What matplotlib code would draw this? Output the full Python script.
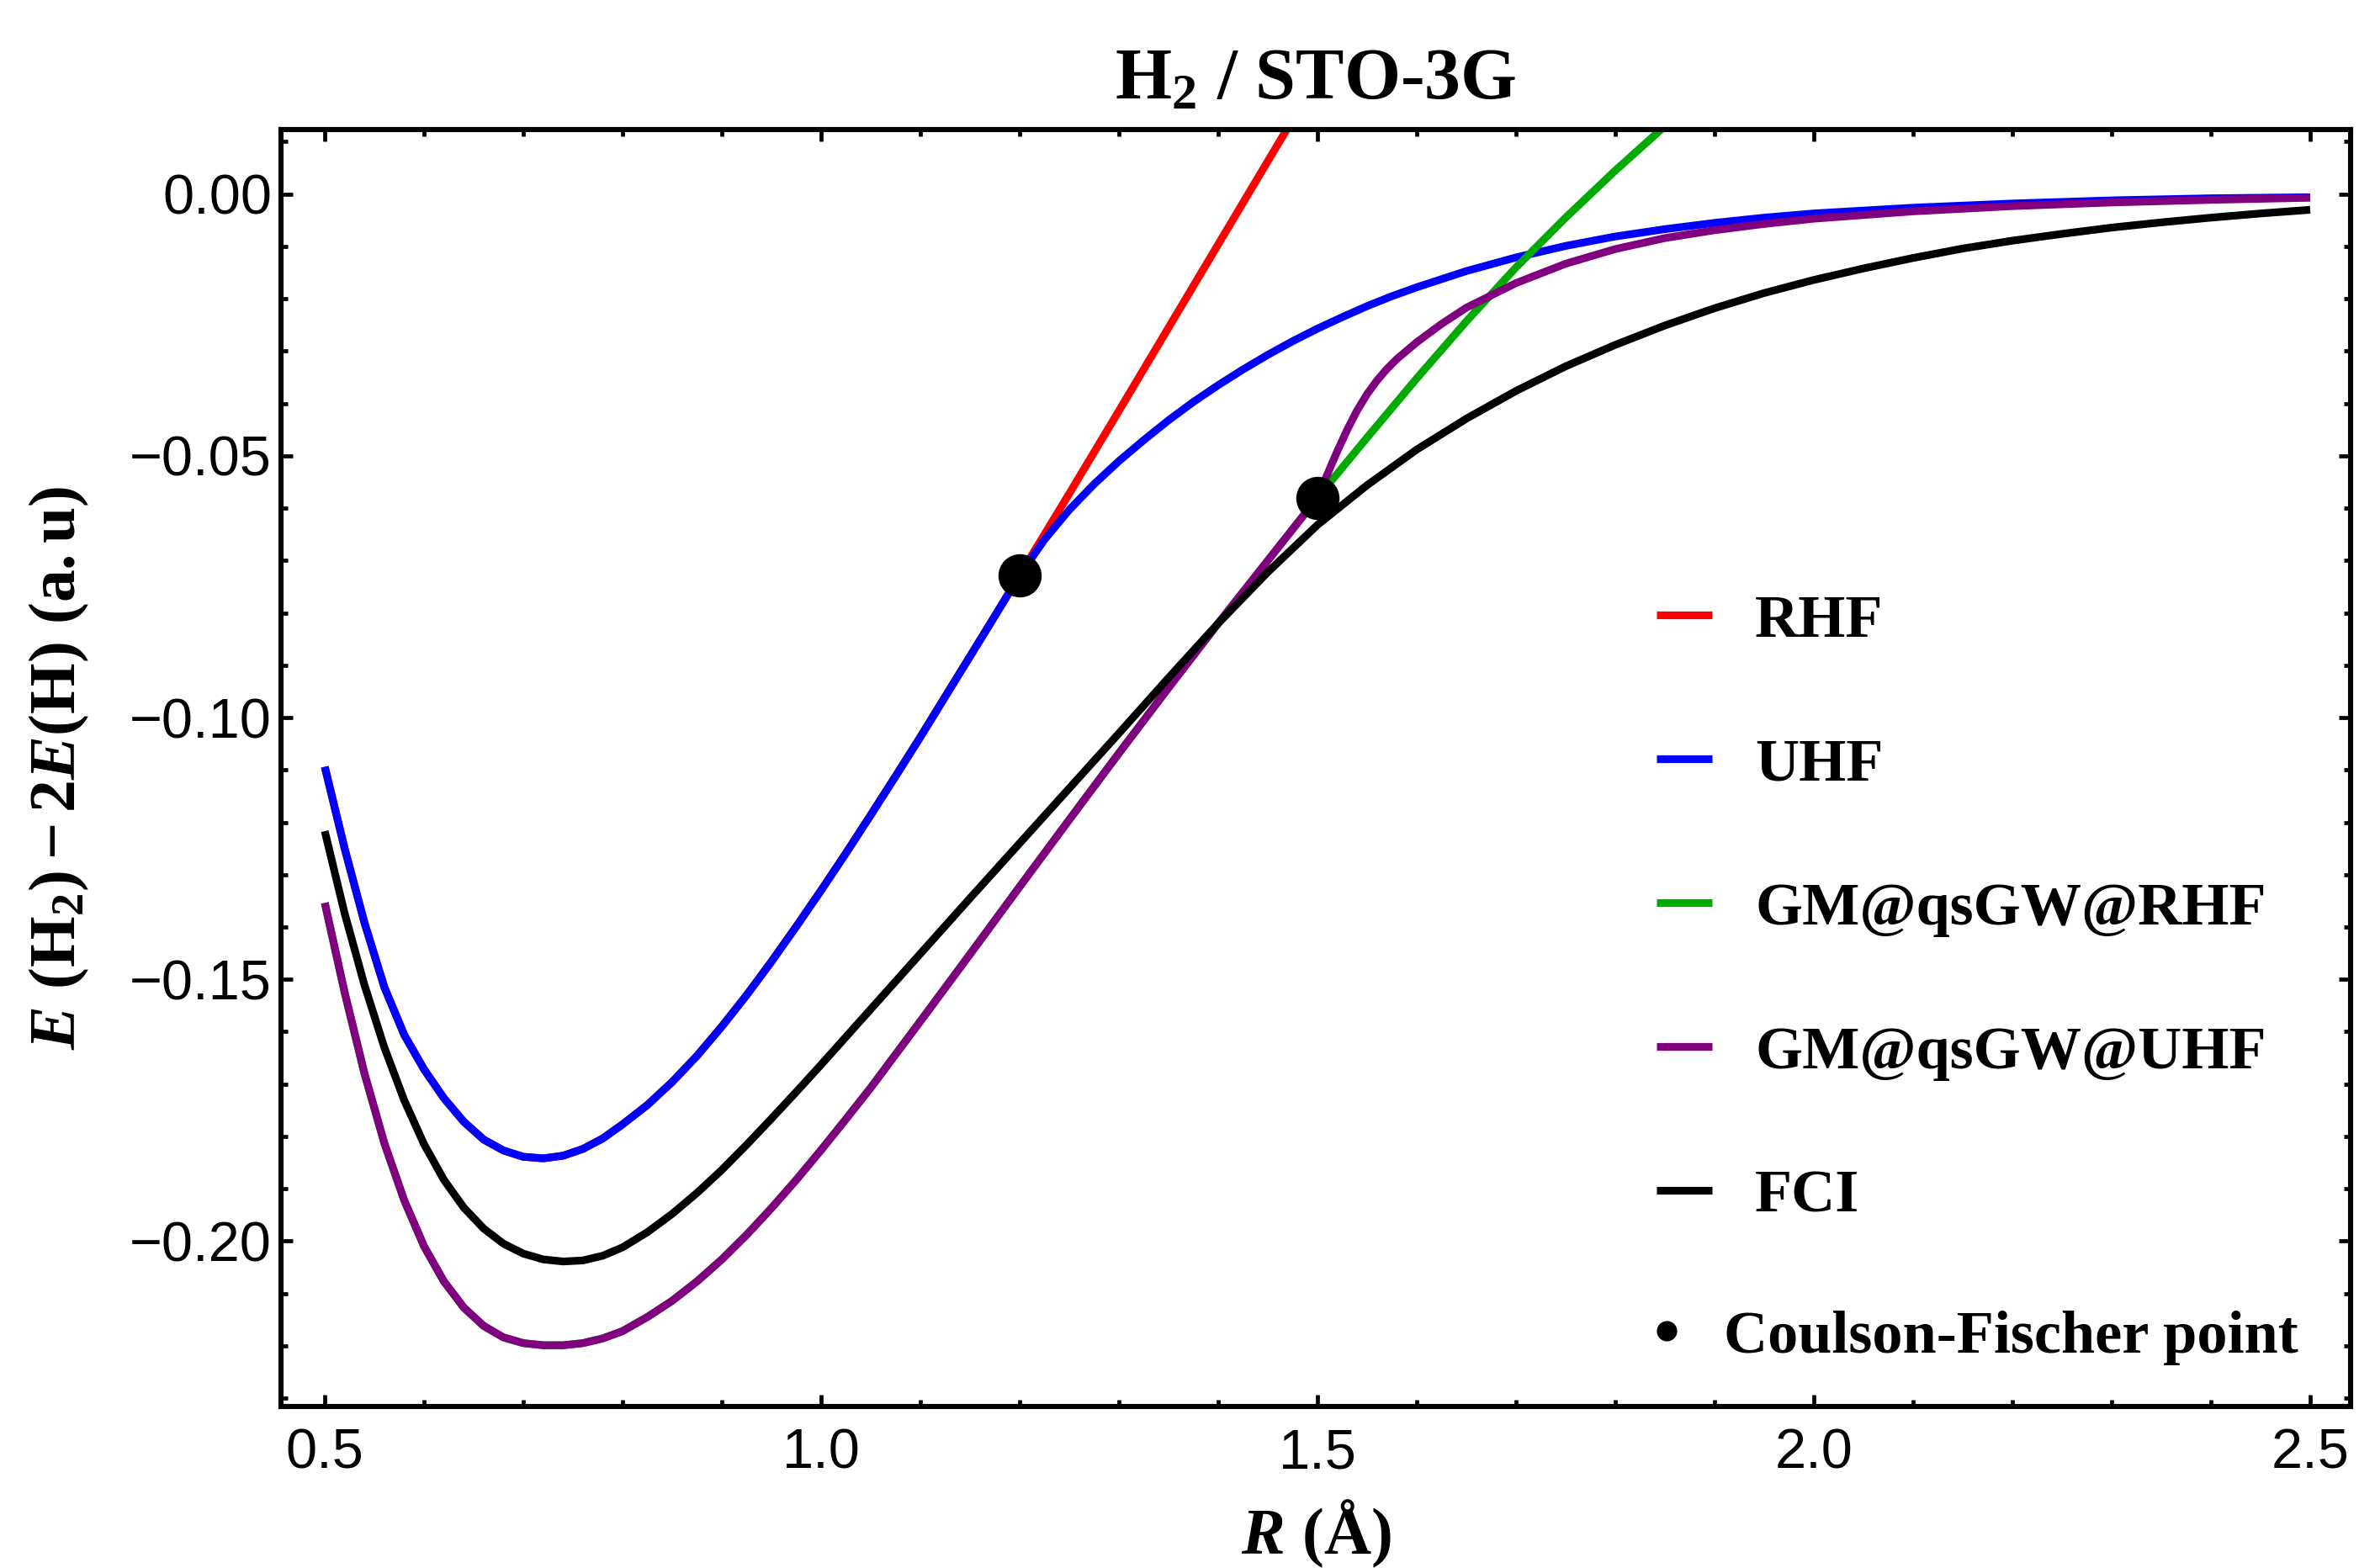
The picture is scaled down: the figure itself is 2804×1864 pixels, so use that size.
import numpy as np
import matplotlib
matplotlib.use("Agg")
import matplotlib.pyplot as plt
from matplotlib.ticker import MultipleLocator, FuncFormatter

# ---------------- data ----------------
R_rhf = [0.50, 0.52, 0.54, 0.56, 0.58, 0.60, 0.62, 0.64, 0.66, 0.68, 0.70, 0.72, 0.74, 0.76,
         0.78, 0.80, 0.825, 0.85, 0.875, 0.90, 0.925, 0.95, 0.975, 1.00, 1.025, 1.05, 1.075,
         1.10, 1.125, 1.15, 1.175, 1.20, 1.25, 1.30, 1.35, 1.40, 1.45, 1.50]
E_rhf = [-0.1094, -0.1250, -0.1392, -0.1515, -0.1606, -0.1672, -0.1727, -0.1772, -0.1806,
         -0.1827, -0.1839, -0.1842, -0.1837, -0.1824, -0.1804, -0.1777, -0.1740, -0.1696,
         -0.1646, -0.1590, -0.1530, -0.1466, -0.1399, -0.1330, -0.1259, -0.1186, -0.1112,
         -0.1037, -0.0960, -0.0883, -0.0806, -0.0728, -0.0572, -0.0414, -0.0255, -0.0096,
         0.0063, 0.0222]

R_uhf = [0.50, 0.52, 0.54, 0.56, 0.58, 0.60, 0.62, 0.64, 0.66, 0.68, 0.70, 0.72, 0.74, 0.76,
         0.78, 0.80, 0.825, 0.85, 0.875, 0.90, 0.925, 0.95, 0.975, 1.00, 1.025, 1.05, 1.075,
         1.10, 1.125, 1.15, 1.175, 1.20, 1.225, 1.25, 1.275, 1.30, 1.325, 1.35, 1.375, 1.40,
         1.425, 1.45, 1.475, 1.50, 1.525, 1.55, 1.575, 1.60, 1.65, 1.70, 1.75, 1.80, 1.85,
         1.90, 1.95, 2.00, 2.10, 2.20, 2.30, 2.40, 2.50]
E_uhf = [-0.1094, -0.1250, -0.1392, -0.1515, -0.1606, -0.1672, -0.1727, -0.1772, -0.1806,
         -0.1827, -0.1839, -0.1842, -0.1837, -0.1824, -0.1804, -0.1777, -0.1740, -0.1696,
         -0.1646, -0.1590, -0.1530, -0.1466, -0.1399, -0.1330, -0.1259, -0.1186, -0.1112,
         -0.1037, -0.0960, -0.0883, -0.0806, -0.0728, -0.0660, -0.0603, -0.0554, -0.0510,
         -0.0470, -0.0432, -0.0397, -0.0365, -0.0335, -0.0307, -0.0281, -0.0257, -0.0235,
         -0.0214, -0.0195, -0.0178, -0.0147, -0.0121, -0.0099, -0.0081, -0.0067, -0.0055,
         -0.0045, -0.0037, -0.0026, -0.0018, -0.0012, -0.0008, -0.0006]

R_gm_rhf = [0.50, 0.52, 0.54, 0.56, 0.58, 0.60, 0.62, 0.64, 0.66, 0.68, 0.70, 0.72, 0.74,
            0.76, 0.78, 0.80, 0.825, 0.85, 0.875, 0.90, 0.925, 0.95, 0.975, 1.00, 1.025,
            1.05, 1.10, 1.15, 1.20, 1.25, 1.30, 1.35, 1.40, 1.45, 1.50, 1.55, 1.60, 1.65,
            1.70, 1.75, 1.80, 1.85, 1.90]
E_gm_rhf = [-0.1354, -0.1525, -0.1680, -0.1813, -0.1922, -0.2010, -0.2077, -0.2127, -0.2162,
            -0.2184, -0.2195, -0.2199, -0.2199, -0.2195, -0.2186, -0.2172, -0.2145, -0.2114,
            -0.2077, -0.2035, -0.1988, -0.1937, -0.1883, -0.1826, -0.1767, -0.1707, -0.1580,
            -0.1452, -0.1323, -0.1195, -0.1068, -0.0943, -0.0820, -0.0700, -0.0580, -0.0465,
            -0.0352, -0.0243, -0.0140, -0.0045, 0.0045, 0.0130, 0.0210]

R_gm_uhf = [0.50, 0.52, 0.54, 0.56, 0.58, 0.60, 0.62, 0.64, 0.66, 0.68, 0.70, 0.72, 0.74,
            0.76, 0.78, 0.80, 0.825, 0.85, 0.875, 0.90, 0.925, 0.95, 0.975, 1.00, 1.025,
            1.05, 1.10, 1.15, 1.20, 1.25, 1.30, 1.35, 1.40, 1.45, 1.50, 1.51, 1.52, 1.53,
            1.54, 1.55, 1.56, 1.57, 1.58, 1.60, 1.625, 1.65, 1.70, 1.75, 1.80, 1.85, 1.90,
            1.95, 2.00, 2.10, 2.20, 2.30, 2.40, 2.50]
E_gm_uhf = [-0.1354, -0.1525, -0.1680, -0.1813, -0.1922, -0.2010, -0.2077, -0.2127, -0.2162,
            -0.2184, -0.2195, -0.2199, -0.2199, -0.2195, -0.2186, -0.2172, -0.2145, -0.2114,
            -0.2077, -0.2035, -0.1988, -0.1937, -0.1883, -0.1826, -0.1767, -0.1707, -0.1580,
            -0.1452, -0.1323, -0.1195, -0.1068, -0.0943, -0.0820, -0.0700, -0.0580, -0.0535,
            -0.0491, -0.0450, -0.0413, -0.0382, -0.0356, -0.0334, -0.0315, -0.0283, -0.0248,
            -0.0217, -0.0170, -0.0133, -0.0105, -0.0084, -0.0069, -0.0057, -0.0047, -0.0033,
            -0.0023, -0.0016, -0.0011, -0.0007]

R_fci = [0.50, 0.52, 0.54, 0.56, 0.58, 0.60, 0.62, 0.64, 0.66, 0.68, 0.70, 0.72, 0.74, 0.76,
         0.78, 0.80, 0.825, 0.85, 0.875, 0.90, 0.925, 0.95, 0.975, 1.00, 1.025, 1.05, 1.075,
         1.10, 1.15, 1.20, 1.25, 1.30, 1.35, 1.40, 1.45, 1.50, 1.55, 1.60, 1.65, 1.70, 1.75,
         1.80, 1.85, 1.90, 1.95, 2.00, 2.05, 2.10, 2.15, 2.20, 2.25, 2.30, 2.35, 2.40, 2.45,
         2.50]
E_fci = [-0.1217, -0.1374, -0.1511, -0.1630, -0.1731, -0.1815, -0.1883, -0.1936, -0.1976,
         -0.2005, -0.2024, -0.2035, -0.2039, -0.2037, -0.2028, -0.2012, -0.1983, -0.1948,
         -0.1908, -0.1864, -0.1816, -0.1766, -0.1715, -0.1663, -0.1610, -0.1557, -0.1504,
         -0.1451, -0.1345, -0.1240, -0.1135, -0.1030, -0.0924, -0.0820, -0.0722, -0.0632,
         -0.0556, -0.0488, -0.0429, -0.0376, -0.0329, -0.0288, -0.0251, -0.0218, -0.0189,
         -0.0164, -0.0142, -0.0122, -0.0104, -0.0089, -0.0076, -0.0064, -0.0054, -0.0045,
         -0.0037, -0.0030]

R_cf = [1.20, 1.50]
E_cf = [-0.0728, -0.0580]

series_labels = ["RHF", "UHF", "GM@qsGW@RHF", "GM@qsGW@UHF", "FCI"]
cf_label = "Coulson-Fischer point"
title_text = r"$\mathrm{H_2}$ / STO-3G"
xlabel_text = r"$R\ (\mathrm{Å})$"
ylabel_text = r"$E\ (\mathrm{H}_2) - 2E(\mathrm{H})\ (\mathrm{a.u})$"

# ---------------- style ----------------
plt.rcParams["mathtext.fontset"] = "custom"
plt.rcParams["mathtext.rm"] = "Liberation Serif:bold"
plt.rcParams["mathtext.bf"] = "Liberation Serif:bold"
plt.rcParams["mathtext.it"] = "Liberation Serif:italic:bold"
plt.rcParams["mathtext.default"] = "it"

W, H, DPI = 2804, 1864, 200
fig = plt.figure(figsize=(W / DPI, H / DPI), dpi=DPI)
ax = fig.add_axes([334 / W, 1 - 1672 / H, (2794 - 334) / W, (1672 - 154) / H])

lw = 3.3
colors = ["#ff0000", "#0000ff", "#00aa00", "#800080", "#000000"]
data = [(R_rhf, E_rhf), (R_uhf, E_uhf), (R_gm_rhf, E_gm_rhf), (R_gm_uhf, E_gm_uhf), (R_fci, E_fci)]
lines = []
for i, ((r, e), c, lab) in enumerate(zip(data, colors, series_labels)):
    ln, = ax.plot(r, e, color=c, lw=lw, label=lab, solid_capstyle="butt",
                  solid_joinstyle="round", zorder=2 + i)
    lines.append(ln)

cf, = ax.plot(R_cf, E_cf, "o", color="black", markersize=17.5, label=cf_label,
              linestyle="none", zorder=10)

ax.set_xlim(0.4559, 2.5407)
ax.set_ylim(-0.2316, 0.01233)

ax.xaxis.set_major_locator(MultipleLocator(0.5))
ax.xaxis.set_minor_locator(MultipleLocator(0.1))
ax.yaxis.set_major_locator(MultipleLocator(0.05))
ax.yaxis.set_minor_locator(MultipleLocator(0.01))


def yfmt(v, pos):
    s = f"{v:.2f}"
    if s in ("-0.00", "0.00"):
        return "0.00"
    return s.replace("-", "\u2212")


ax.yaxis.set_major_formatter(FuncFormatter(yfmt))

ax.tick_params(which="both", direction="in", top=True, right=True, width=1.7, color="black")
ax.tick_params(which="major", length=5.0)
ax.tick_params(which="minor", length=3.0)
ax.tick_params(axis="y", which="major", pad=4)
ax.tick_params(axis="x", which="major", pad=9)
for lbl in ax.get_xticklabels() + ax.get_yticklabels():
    lbl.set_fontfamily("Liberation Sans")
    lbl.set_fontsize(24)

for sp in ax.spines.values():
    sp.set_linewidth(2.2)
    sp.set_zorder(20)

ax.set_xlabel(xlabel_text, fontsize=28)
ax.set_ylabel(ylabel_text, fontsize=28)
ax.xaxis.set_label_coords(0.5, -0.0715)
ax.yaxis.set_label_coords(-0.092, 0.5)

ax.text(0.5, 1.0244, title_text, transform=ax.transAxes, ha="center", va="baseline",
        fontsize=31, fontfamily="Liberation Serif", fontweight="bold")

leg_font = {"family": "Liberation Serif", "weight": "bold", "size": 26}
leg1 = ax.legend(handles=lines, labels=series_labels, loc="upper left",
                 bbox_to_anchor=(1969 / W, 1 - 706 / H), bbox_transform=fig.transFigure,
                 frameon=False, prop=leg_font, handlelength=0.92, handletextpad=0.7,
                 labelspacing=1.46, borderpad=0, borderaxespad=0)
for lh in leg1.get_lines():
    lh.set_linewidth(lw)
ax.add_artist(leg1)
leg2 = ax.legend(handles=[cf], labels=[cf_label], loc="upper left",
                 bbox_to_anchor=(1968 / W, 1 - 1557 / H), bbox_transform=fig.transFigure,
                 frameon=False, prop=leg_font, handlelength=0.35, handletextpad=0.77,
                 markerscale=0.44, borderpad=0, borderaxespad=0)

fig.savefig("out.png", dpi=DPI)
